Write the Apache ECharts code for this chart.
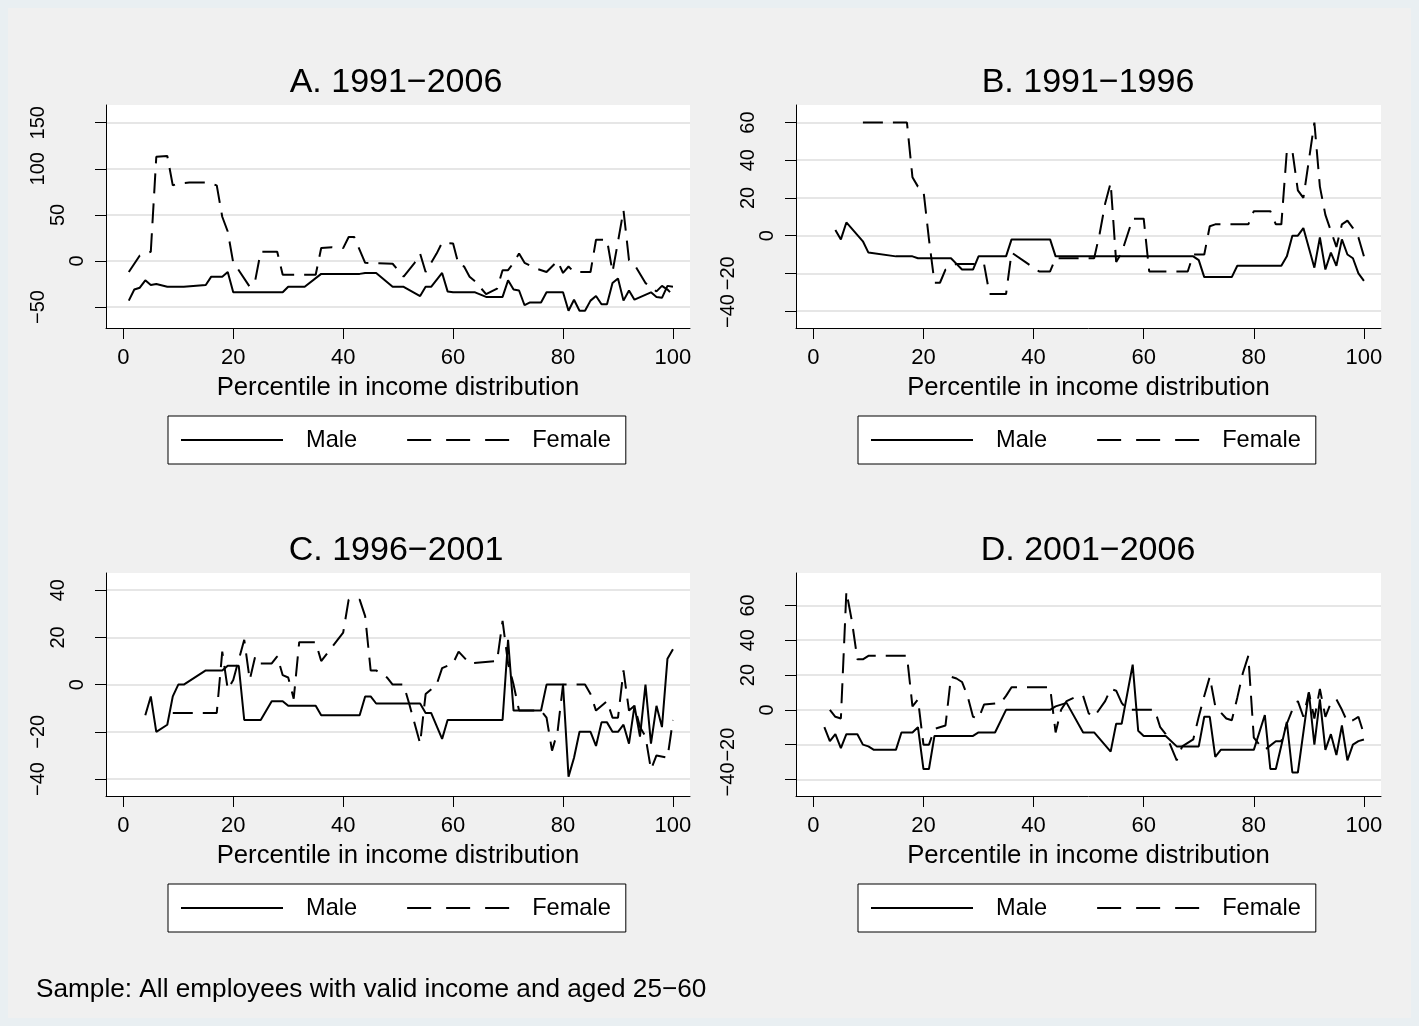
<!DOCTYPE html>
<html>
<head>
<meta charset="utf-8">
<script src="https://cdn.jsdelivr.net/npm/echarts@6/dist/echarts.min.js"></script>
<style>
html,body{margin:0;padding:0;background:#e9eff2;}
#c{width:1419px;height:1026px;}
</style>
</head>
<body>
<div id="c"></div>
<script>
// ---- data (percentile, change) ----
const panelTitles = ['A. 1991\u22122006', 'B. 1991\u22121996', 'C. 1996\u22122001', 'D. 2001\u22122006'];
const seriesNames = ['Male', 'Female'];
const xTicks = [0, 20, 40, 60, 80, 100];
const yTicksA = [-50, 0, 50, 100, 150];
const yTicksB = [-40, -20, 0, 20, 40, 60];
const yTicksC = [-40, -20, 0, 20, 40];
const yTicksD = [-40, -20, 0, 20, 40, 60];
const xAxisTitle = 'Percentile in income distribution';
const footnote = 'Sample: All employees with valid income and aged 25\u221260';

const maleA = [[1,-43],[2,-31],[3,-29],[4,-21],[5,-26],[6,-25],[8,-28],[11,-28],[15,-26],[16,-17],[18,-17],[19,-12],[20,-34],[29,-34],[30,-28],[33,-28],[36,-14],[43,-14],[44,-13],[46,-13],[49,-28],[51,-28],[54,-38],[55,-28],[56,-28],[58,-13],[59,-33],[60,-34],[64,-34],[66,-39],[69,-39],[70,-21],[71,-31],[72,-32],[73,-48],[74,-45],[76,-45],[77,-34],[80,-34],[81,-54],[82,-42],[83,-54],[84,-54],[85,-43],[86,-38],[87,-47],[88,-47],[89,-24],[90,-19],[91,-43],[92,-32],[93,-42],[96,-34],[97,-39],[98,-40],[99,-27],[100,-28]];
const femaleA = [[1,-12],[3,6],[5,10],[6,113],[8,114],[9,82],[10,84],[12,85],[15,85],[17,82],[18,48],[19,32],[20,-2],[21,-10],[23,-28],[24,-21],[25,10],[28,10],[29,-15],[35,-15],[36,14],[38,15],[40,14],[41,26],[42,26],[44,-2],[49,-3],[51,-17],[53,-2],[54,8],[55,-12],[57,8],[58,20],[60,19],[61,-4],[62,-6],[63,-17],[64,-22],[66,-36],[68,-30],[69,-10],[70,-10],[71,-2],[72,8],[73,-2],[75,-8],[77,-12],[79,0],[80,-13],[81,-6],[82,-12],[85,-12],[86,23],[88,23],[89,-12],[90,21],[91,55],[92,1],[93,-4],[95,-24],[96,-28],[97,-33],[98,-27],[99,-31],[100,-37]];

const maleB = [[4,3],[5,-2],[6,7],[9,-3],[10,-9],[15,-11],[18,-11],[19,-12],[25,-12],[26,-15],[27,-18],[29,-18],[30,-11],[35,-11],[36,-2],[43,-2],[44,-11],[69,-11],[70,-13],[71,-22],[76,-22],[77,-16],[85,-16],[86,-11],[87,0],[88,0],[89,4],[91,-17],[92,-1],[93,-18],[94,-9],[95,-16],[96,-2],[97,-10],[98,-12],[99,-20],[100,-24]];
const femaleB = [[9,60],[17,60],[18,31],[19,26],[20,24],[21,-2],[22,-25],[23,-25],[24,-18],[26,-15],[31,-15],[32,-31],[35,-31],[36,-9],[39,-15],[41,-19],[43,-19],[44,-12],[51,-12],[52,1],[53,17],[54,28],[55,-14],[56,-9],[58,9],[60,9],[61,-19],[68,-19],[69,-10],[71,-10],[72,5],[73,6],[79,6],[80,13],[83,13],[84,6],[85,6],[86,45],[87,45],[88,24],[89,20],[91,60],[92,26],[93,11],[95,-6],[96,6],[97,8],[98,4],[99,-1],[100,-11]];

const maleC = [[4,-13],[5,-5],[6,-20],[8,-17],[9,-5],[10,0],[11,0],[15,6],[18,6],[19,8],[21,8],[22,-15],[25,-15],[27,-7],[29,-7],[30,-9],[35,-9],[36,-13],[43,-13],[44,-5],[45,-5],[46,-8],[54,-8],[55,-12],[56,-12],[58,-23],[59,-15],[69,-15],[70,19],[71,-11],[76,-11],[77,0],[80,0],[81,-39],[82,-31],[83,-20],[85,-20],[86,-26],[87,-16],[88,-16],[89,-20],[90,-20],[91,-17],[92,-25],[93,-9],[94,-22],[95,0],[96,-25],[97,-9],[98,-18],[99,11],[100,15]];
const femaleC = [[9,-12],[17,-12],[18,14],[19,-2],[20,2],[22,19],[23,2],[24,12],[25,9],[27,9],[28,12],[29,4],[30,3],[31,-6],[32,18],[35,18],[36,10],[38,16],[40,22],[41,36],[43,36],[44,29],[45,6],[46,6],[48,3],[49,0],[51,0],[52,-8],[54,-25],[55,-4],[57,0],[58,7],[60,9],[61,14],[63,9],[68,10],[69,27],[70,9],[71,0],[72,-11],[76,-11],[77,-14],[78,-28],[79,-20],[80,0],[84,0],[85,-4],[86,-11],[88,-7],[89,-14],[90,-14],[91,6],[92,-11],[93,-9],[94,-18],[95,-22],[96,-36],[97,-30],[99,-31],[100,-15]];

const maleD = [[2,-10],[3,-18],[4,-14],[5,-22],[6,-14],[8,-14],[9,-20],[10,-21],[11,-23],[15,-23],[16,-13],[18,-13],[19,-10],[20,-34],[21,-34],[22,-15],[29,-15],[30,-13],[33,-13],[35,0],[43,0],[44,2],[45,3],[46,4],[49,-13],[51,-13],[54,-24],[55,-8],[56,-8],[58,26],[59,-12],[60,-15],[64,-15],[66,-21],[70,-21],[71,-4],[72,-4],[73,-27],[74,-23],[80,-23],[82,-3],[83,-34],[84,-34],[86,-7],[87,-36],[88,-36],[90,10],[91,-20],[92,6],[93,-23],[94,-14],[95,-26],[96,-9],[97,-29],[98,-20],[99,-18],[100,-17]];
const femaleD = [[3,0],[4,-4],[5,-5],[6,68],[7,51],[8,29],[9,29],[10,31],[17,31],[18,2],[19,6],[20,-20],[21,-20],[22,-11],[24,-9],[25,19],[26,18],[27,16],[28,8],[29,-4],[30,-5],[31,3],[34,4],[35,8],[36,13],[43,13],[44,-13],[45,0],[46,5],[48,8],[49,8],[50,-2],[51,-4],[53,5],[54,12],[55,11],[56,4],[57,0],[62,0],[63,-10],[64,-14],[66,-29],[67,-21],[69,-17],[70,-4],[71,8],[72,19],[73,2],[75,-5],[76,-6],[77,7],[78,21],[79,31],[80,-16],[81,-20],[82,-23],[84,-18],[85,-18],[86,-8],[87,0],[88,5],[89,-4],[90,10],[91,-5],[92,12],[93,-4],[94,4],[95,6],[96,0],[97,-7],[98,-6],[99,-4],[100,-14]];

// ---- layout ----
const FONT = 'Liberation Sans, Arial, sans-serif';
const YFS = 20;
const panels = [
  {grid:{left:106, top:105, width:584, height:223}, y:[-72.7,169.2], ticks:yTicksA, male:maleA, female:femaleA, title:[396,66], legend:[168,416]},
  {grid:{left:796, top:105, width:585, height:223}, y:[-49.0,69.3], ticks:yTicksB, male:maleB, female:femaleB, title:[1088,66], legend:[858,416]},
  {grid:{left:106, top:573, width:584, height:223}, y:[-47.2,47.3], ticks:yTicksC, male:maleC, female:femaleC, title:[396,534], legend:[168,884]},
  {grid:{left:796, top:573, width:585, height:223}, y:[-49.5,78.6], ticks:yTicksD, male:maleD, female:femaleD, title:[1088,534], legend:[858,884]}
];

function yFmt(v){
  const s = String(v).replace('-', '\u2212');
  return '{s' + s.length + '|' + s + '}';
}

const option = {
  backgroundColor: '#e9eff2',
  animation: false,
  graphic: [{type:'rect', left:8, top:8, shape:{width:1403, height:1010}, style:{fill:'#f0f0f0'}, z:-10}],
  title: panels.map((p,i)=>({
    text: panelTitles[i], left: p.title[0], top: p.title[1], textAlign:'center', padding:0,
    textStyle:{fontFamily:FONT, fontSize:34, fontWeight:'normal', color:'#000'}
  })).concat([{text: footnote, left:36, top:977, padding:0,
    textStyle:{fontFamily:FONT, fontSize:26.2, fontWeight:'normal', color:'#000'}}]),
  legend: panels.map(p=>({
    data: [{name: seriesNames[0]}, {name: seriesNames[1], lineStyle:{type:[24,15]}}],
    left: p.legend[0], top: p.legend[1], orient:'horizontal',
    itemWidth:102, itemHeight:14, itemGap:49,
    padding:[12,15,12,12], borderColor:'#000', borderWidth:1, backgroundColor:'#fff',
    selectedMode:false,
    itemStyle:{opacity:0, borderWidth:0},
    textStyle:{fontFamily:FONT, fontSize:23.6, color:'#000', padding:[0,0,0,18], lineHeight:23}
  })),
  grid: panels.map(p=>Object.assign({show:true, backgroundColor:'#fff', borderWidth:0}, p.grid)),
  xAxis: panels.map((p,i)=>({
    type:'value', gridIndex:i, min:-3.15, max:103.1,
    name: xAxisTitle, nameLocation:'middle', nameGap:47,
    nameTextStyle:{fontFamily:FONT, fontSize:25.7, color:'#000'},
    axisLine:{show:true, onZero:false, lineStyle:{color:'#000', width:1}},
    axisTick:{show:true, length:11, customValues:xTicks, lineStyle:{color:'#000'}},
    axisLabel:{customValues:xTicks, margin:19, fontFamily:FONT, fontSize:22, color:'#000'},
    splitLine:{show:false}
  })),
  yAxis: panels.map((p,i)=>({
    type:'value', gridIndex:i, min:p.y[0], max:p.y[1],
    axisLine:{show:true, onZero:false, lineStyle:{color:'#000', width:1}},
    axisTick:{show:true, length:11, customValues:p.ticks, lineStyle:{color:'#000'}},
    axisLabel:{customValues:p.ticks, rotate:90, margin:19, formatter:yFmt,
      hideOverlap:false,
      fontFamily:FONT, fontSize:YFS, color:'#000',
      rich:{
        s1:{fontFamily:FONT, fontSize:YFS, color:'#000', padding:[0,0,0,0]},
        s2:{fontFamily:FONT, fontSize:YFS, color:'#000', padding:[0,0,19,0]},
        s3:{fontFamily:FONT, fontSize:YFS, color:'#000', padding:[0,0,39,0]}
      }},
    splitLine:{show:true, lineStyle:{color:'#e6e6e6', width:2}}
  })),
  series: panels.flatMap((p,i)=>[
    {name:'Male', type:'line', xAxisIndex:i, yAxisIndex:i, data:p.male, symbol:'none',
     lineStyle:{color:'#000', width:2, type:'solid'}, itemStyle:{color:'#000'}},
    {name:'Female', type:'line', xAxisIndex:i, yAxisIndex:i, data:p.female, symbol:'none',
     lineStyle:{color:'#000', width:2, type:[20,10]}, itemStyle:{color:'#000'}}
  ])
};

const chart = echarts.init(document.getElementById('c'), null, {renderer:'canvas'});
chart.setOption(option);
</script>
</body>
</html>
